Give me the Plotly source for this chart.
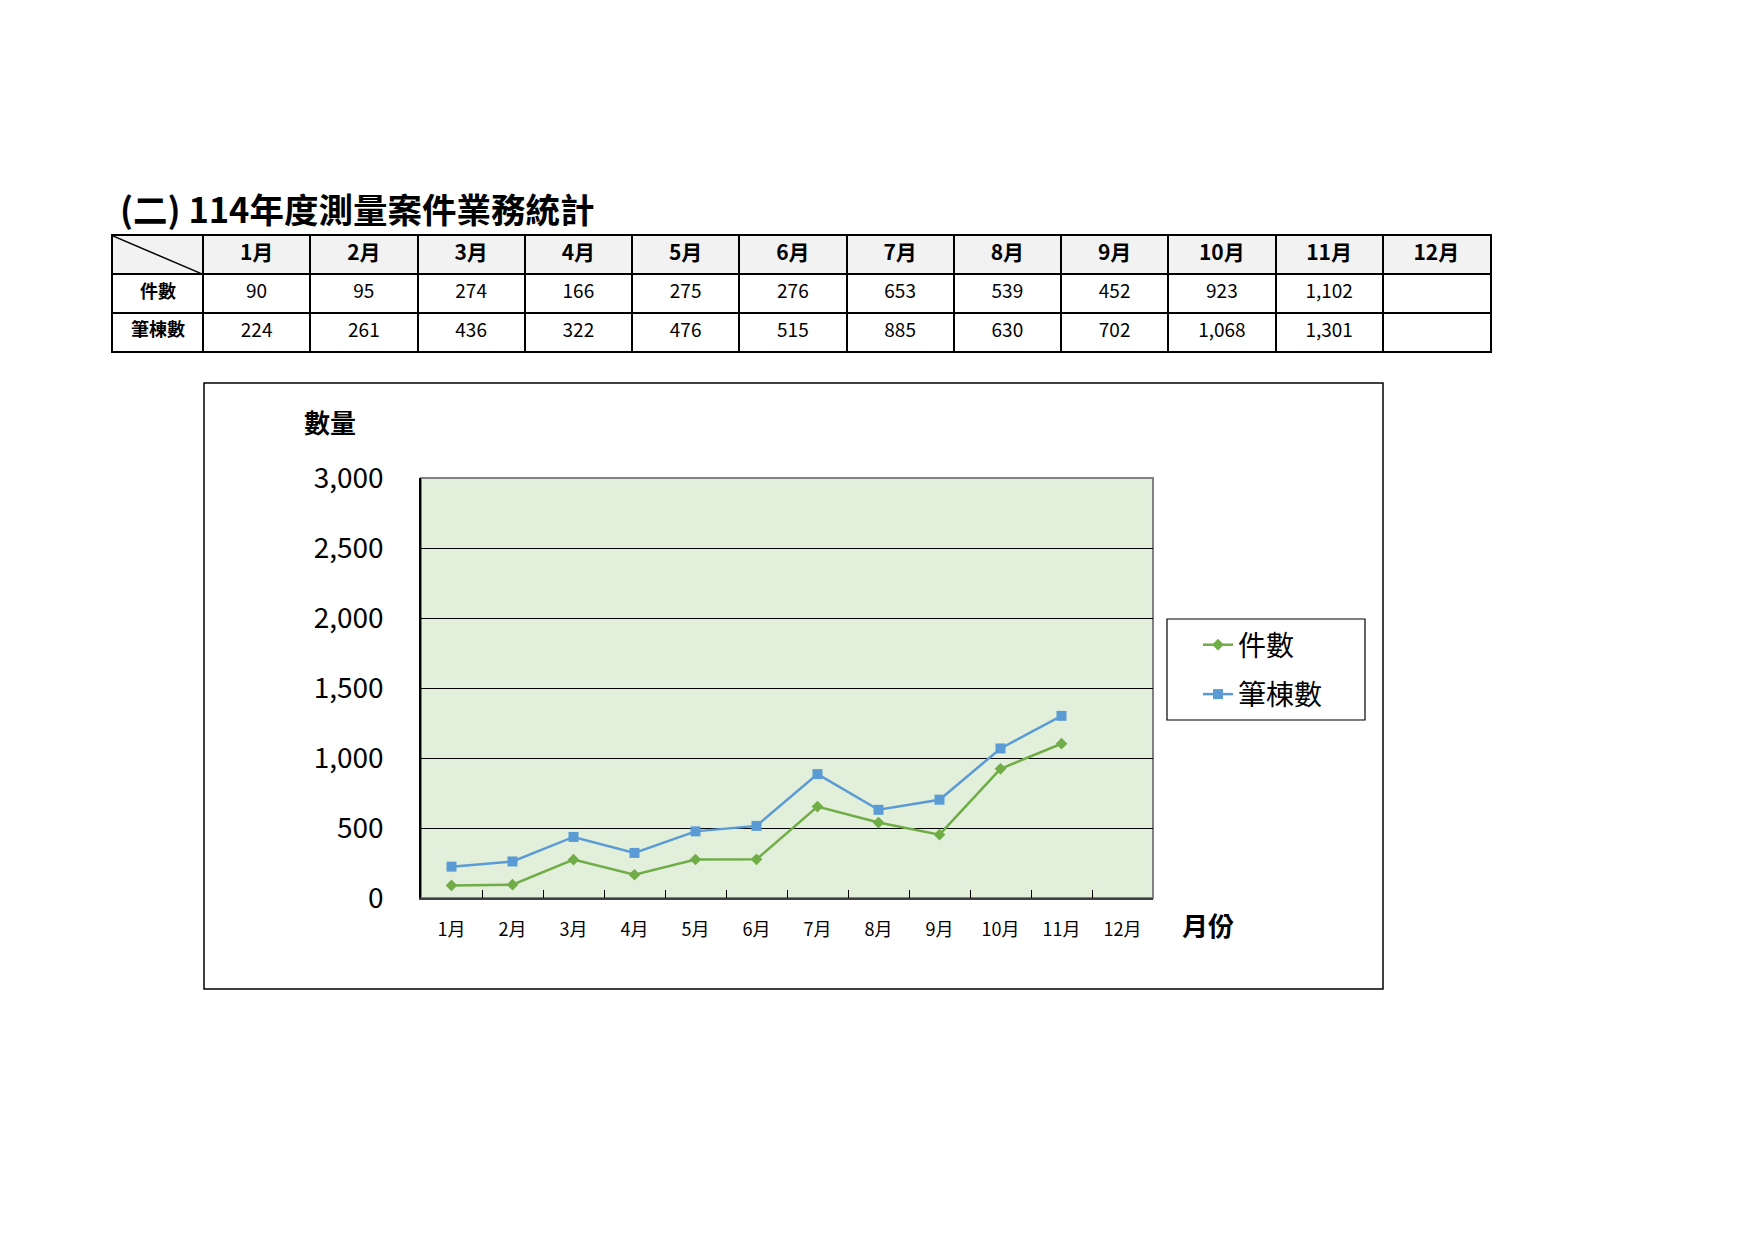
import plotly.graph_objects as go

months = ["1月", "2月", "3月", "4月", "5月", "6月", "7月", "8月", "9月", "10月", "11月", "12月"]
cases = [90, 95, 274, 166, 275, 276, 653, 539, 452, 923, 1102, None]      # 件數
parcels = [224, 261, 436, 322, 476, 515, 885, 630, 702, 1068, 1301, None]  # 筆棟數
row_labels = ["件數", "筆棟數"]
title = "(二) 114年度測量案件業務統計"

W, H = 1754, 1240
FONT = "Noto Sans CJK TC"
GREEN = "#70ad47"
BLUE = "#5b9bd5"
LAB_W = 90 / 107.25   # width of the label column, in month-column units


def px(x):
    return x / W


def py(y):
    return 1 - y / H


def fmt(v):
    return "" if v is None else f"{v:,}"


fig = go.Figure()

# ---- summary table, laid out on its own axes (x2 / y2) ----
col_x = [i + 0.5 for i in range(len(months))]
fig.add_trace(go.Scatter(
    x=col_x, y=[0.5] * len(months), xaxis="x2", yaxis="y2",
    mode="text", text=["<b>" + m + "</b>" for m in months],
    textfont=dict(family=FONT, size=21, color="black"),
    showlegend=False, hoverinfo="skip",
))
fig.add_trace(go.Scatter(
    x=[-LAB_W / 2] * 2, y=[1.5, 2.5], xaxis="x2", yaxis="y2",
    mode="text", text=["<b>" + r + "</b>" for r in row_labels],
    textfont=dict(family=FONT, size=18, color="black"),
    showlegend=False, hoverinfo="skip",
))
fig.add_trace(go.Scatter(
    x=col_x + col_x, y=[1.5] * len(months) + [2.5] * len(months),
    xaxis="x2", yaxis="y2", mode="text",
    text=[fmt(v) for v in cases] + [fmt(v) for v in parcels],
    textfont=dict(family=FONT, size=19, color="black"),
    showlegend=False, hoverinfo="skip",
))

# ---- line chart ----
fig.add_trace(go.Scatter(
    x=months, y=cases, name="件數", mode="lines+markers",
    line=dict(color=GREEN, width=2.5),
    marker=dict(symbol="diamond", size=9, color=GREEN),
    legendgroup="a",
))
fig.add_trace(go.Scatter(
    x=months, y=parcels, name="筆棟數", mode="lines+markers",
    line=dict(color=BLUE, width=2.5),
    marker=dict(symbol="square", size=10, color=BLUE),
    legendgroup="b",
))

fig.update_layout(
    width=W, height=H,
    margin=dict(l=0, r=0, t=0, b=0, autoexpand=False),
    paper_bgcolor="white",
    plot_bgcolor="#e2efda",
    font=dict(family=FONT, color="black"),
    showlegend=True,
    legend=dict(
        x=px(1198), y=py(620), xanchor="left", yanchor="top",
        bgcolor="rgba(0,0,0,0)",
        font=dict(family=FONT, size=28, color="black"),
        traceorder="grouped", tracegroupgap=10,
    ),
    xaxis=dict(
        domain=[px(421), px(1153)],
        type="category", automargin=False,
        range=[-0.5, len(months) - 0.5],
        showline=True, linecolor="#404040", linewidth=2,
        showgrid=False,
        ticks="inside", tickson="boundaries", ticklen=8, tickcolor="black",
        tickfont=dict(family=FONT, size=18, color="black"),
        ticklabelstandoff=14,
    ),
    yaxis=dict(
        domain=[py(898), py(478)], automargin=False,
        range=[0, 3000], dtick=500, tickformat=",",
        showline=True, linecolor="black", linewidth=1.5,
        showgrid=True, gridcolor="black", gridwidth=1,
        zeroline=False,
        ticks="", tickfont=dict(family=FONT, size=28, color="black"),
        ticklabelstandoff=30,
    ),
    xaxis2=dict(
        domain=[px(113), px(1490)], anchor="y2", automargin=False,
        range=[-LAB_W, len(months)],
        tickvals=[-LAB_W] + list(range(len(months) + 1)),
        showticklabels=False, ticks="",
        showgrid=True, gridcolor="black", gridwidth=1.5,
        zeroline=False,
        showline=True, mirror=True, linecolor="black", linewidth=1.5,
    ),
    yaxis2=dict(
        domain=[py(351), py(236)], anchor="x2", automargin=False,
        range=[3, 0],
        tickvals=[0, 1, 2, 3],
        showticklabels=False, ticks="",
        showgrid=True, gridcolor="black", gridwidth=1.5,
        zeroline=False,
        showline=True, mirror=True, linecolor="black", linewidth=1.5,
    ),
)

# table background and grey header band
fig.add_shape(type="rect", xref="x2 domain", yref="y2 domain", x0=0, x1=1, y0=0, y1=1,
              fillcolor="white", line=dict(width=0), layer="below")
fig.add_shape(type="rect", xref="x2 domain", yref="y2", x0=0, x1=1, y0=0, y1=1,
              fillcolor="#f2f2f2", line=dict(width=0), layer="below")
# diagonal in the table corner cell
fig.add_shape(type="line", xref="x2", yref="y2", x0=-LAB_W, y0=0, x1=0, y1=1,
              line=dict(color="black", width=1.5))

# plot area border (top / right in grey)
fig.add_shape(type="rect", xref="x domain", yref="y domain", x0=0, x1=1, y0=0, y1=1,
              line=dict(color="#808080", width=2), layer="below")
# outer chart frame
fig.add_shape(type="rect", xref="paper", yref="paper",
              x0=px(204), x1=px(1383), y0=py(989), y1=py(383),
              line=dict(color="black", width=1.5))
# legend frame
fig.add_shape(type="rect", xref="paper", yref="paper",
              x0=px(1167), x1=px(1365), y0=py(720), y1=py(619),
              line=dict(color="black", width=1.2))

fig.add_annotation(text="<b>" + title + "</b>", xref="paper", yref="paper",
                   x=px(118), y=py(208), xanchor="left", yanchor="middle",
                   showarrow=False, font=dict(family=FONT, size=34.5, color="black"))
fig.add_annotation(text="<b>數量</b>", xref="paper", yref="paper",
                   x=px(330), y=py(421), xanchor="center", yanchor="middle",
                   showarrow=False, font=dict(family=FONT, size=26, color="black"))
fig.add_annotation(text="<b>月份</b>", xref="paper", yref="paper",
                   x=px(1180), y=py(924), xanchor="left", yanchor="middle",
                   showarrow=False, font=dict(family=FONT, size=26, color="black"))

fig.write_html("out.html", config={"displayModeBar": False},
               post_script="document.body.style.margin='0';")
